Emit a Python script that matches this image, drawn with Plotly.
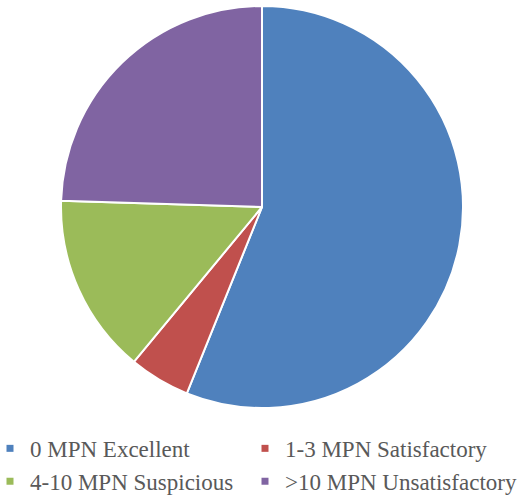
import plotly.graph_objects as go

categories = ["0 MPN Excellent", "1-3 MPN Satisfactory", "4-10 MPN Suspicious", ">10 MPN Unsatisfactory"]
values = [56.1, 4.9, 14.5, 24.5]
colors = ["#4F81BD", "#C0504D", "#9BBB59", "#8064A2"]
legend_column = ["legend", "legend2", "legend", "legend2"]

W, H = 523, 499
cx, cy, r = 262, 207, 201

fig = go.Figure()
fig.add_trace(go.Pie(
    labels=categories, values=values, sort=False, direction="clockwise", rotation=0,
    marker=dict(colors=colors, line=dict(color="white", width=2)),
    textinfo="none", hoverinfo="label+percent", showlegend=False,
    domain=dict(x=[(cx - r) / W, (cx + r) / W], y=[(H - cy - r) / H, (H - cy + r) / H]),
))
for c, col, lg in zip(categories, colors, legend_column):
    fig.add_trace(go.Scatter(x=[None], y=[None], mode="markers", name=c, legend=lg,
                             marker=dict(symbol="square", size=7, color=col)))

lfont = dict(family="Liberation Serif", size=23, color="#595959")
fig.update_layout(
    width=W, height=H, margin=dict(l=0, r=0, t=0, b=0, autoexpand=False),
    paper_bgcolor="white", plot_bgcolor="white",
    font=lfont,
    xaxis=dict(visible=False), yaxis=dict(visible=False),
    legend=dict(orientation="v", x=-10 / W, xanchor="left", y=0.1445, yanchor="top",
                font=lfont, tracegroupgap=0, itemwidth=30, bgcolor="rgba(0,0,0,0)"),
    legend2=dict(orientation="v", x=245 / W, xanchor="left", y=0.1445, yanchor="top",
                 font=lfont, tracegroupgap=0, itemwidth=30, bgcolor="rgba(0,0,0,0)"),
)
fig.write_html("out.html", config={"displayModeBar": False},
               post_script="document.body.style.margin='0';")
